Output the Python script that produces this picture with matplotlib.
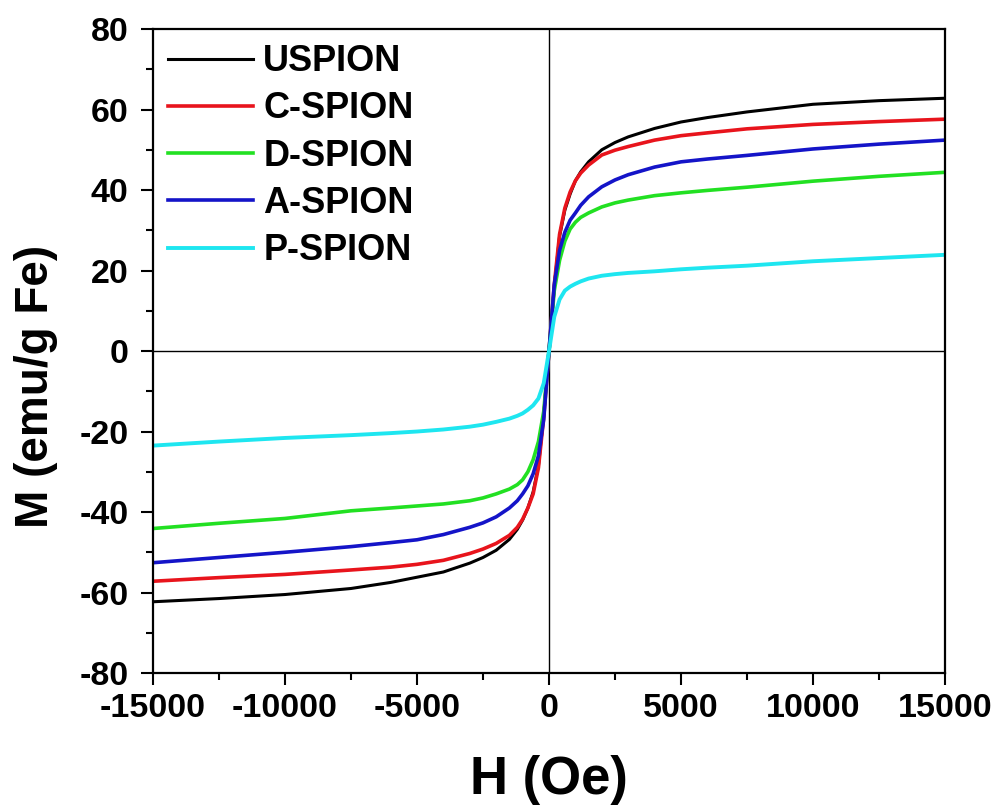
import matplotlib
matplotlib.use("Agg")
import matplotlib.pyplot as plt
from matplotlib.ticker import MultipleLocator

H = [-15000, -12500, -10000, -7500, -6000, -5000, -4000, -3000, -2500, -2000, -1500, -1200, -1000, -800,
     -600, -400, -200, 0, 200, 400, 600, 800, 1000, 1200, 1500, 2000, 2500, 3000, 4000, 5000, 6000,
     7500, 10000, 12500, 15000]

M_USPION = [-62.3, -61.5, -60.5, -59.0, -57.5, -56.2, -54.9, -52.7, -51.3, -49.5, -46.8, -44.3, -42.0, -39.0,
            -35.0, -28.5, -16.0, 0, 16.0, 28.5, 35.0, 39.0, 42.3, 44.5, 47.0, 50.0, 51.8, 53.2, 55.3, 56.9,
            58.0, 59.4, 61.3, 62.2, 62.8]
M_CSPION = [-57.2, -56.3, -55.5, -54.4, -53.7, -53.0, -52.0, -50.3, -49.2, -47.8, -45.8, -43.8, -41.8, -39.0,
            -35.5, -29.0, -16.5, 0, 16.5, 29.0, 35.5, 39.5, 42.3, 44.2, 46.2, 48.7, 49.9, 50.8, 52.4, 53.5,
            54.2, 55.2, 56.3, 57.0, 57.6]
M_DSPION = [-44.1, -42.8, -41.6, -39.7, -39.0, -38.5, -38.0, -37.2, -36.5, -35.5, -34.3, -33.2, -32.0, -30.0,
            -27.0, -22.5, -15.0, 0, 15.0, 22.5, 27.3, 30.3, 32.0, 33.2, 34.3, 35.8, 36.8, 37.5, 38.6, 39.3,
            39.9, 40.7, 42.2, 43.4, 44.4]
M_ASPION = [-52.6, -51.3, -50.0, -48.6, -47.6, -46.9, -45.6, -43.8, -42.7, -41.2, -39.0, -37.2, -35.5, -33.5,
            -30.5, -26.0, -17.0, 0, 16.5, 25.0, 29.5, 32.5, 34.3, 36.2, 38.3, 40.8, 42.5, 43.8, 45.7, 47.0,
            47.7, 48.6, 50.2, 51.4, 52.4]
M_PSPION = [-23.5, -22.5, -21.6, -20.9, -20.4, -20.0, -19.5, -18.8, -18.3, -17.6, -16.8, -16.1, -15.5, -14.6,
            -13.5, -11.8, -8.0, 0, 8.5, 12.8, 15.0, 16.0, 16.7, 17.3, 18.0, 18.7, 19.1, 19.4, 19.8, 20.3,
            20.7, 21.2, 22.3, 23.1, 23.9]

labels = ["USPION", "C-SPION", "D-SPION", "A-SPION", "P-SPION"]
series = [M_USPION, M_CSPION, M_DSPION, M_ASPION, M_PSPION]
colors = ["#000000", "#e8141c", "#22e022", "#1414c8", "#1ee6f0"]
widths = [2.2, 2.6, 2.6, 2.6, 2.8]

plt.rcParams['font.family'] = ['Liberation Sans', 'DejaVu Sans']
plt.rcParams['font.weight'] = 'bold'
plt.rcParams['axes.unicode_minus'] = False

fig = plt.figure(figsize=(9.98, 8.06), dpi=100)
ax = fig.add_axes([0.1533, 0.165, 0.7936, 0.799])

ax.axhline(0, color='black', lw=1.0, zorder=1)
ax.axvline(0, color='black', lw=1.0, zorder=1)

for m, lab, c, w in zip(series, labels, colors, widths):
    ax.plot(H, m, color=c, lw=w, label=lab, zorder=2, solid_joinstyle='round')

ax.set_xlim(-15000, 15000)
ax.set_ylim(-80, 80)
ax.xaxis.set_major_locator(MultipleLocator(5000))
ax.xaxis.set_minor_locator(MultipleLocator(2500))
ax.yaxis.set_major_locator(MultipleLocator(20))
ax.yaxis.set_minor_locator(MultipleLocator(10))
ax.tick_params(which='major', direction='out', length=8.5, width=1.5, labelsize=24.5)
ax.tick_params(which='minor', direction='out', length=5, width=1.5)
ax.tick_params(axis='y', which='major', pad=9)
ax.tick_params(axis='x', which='major', pad=6)
ax.tick_params(top=False, right=False)
for sp in ax.spines.values():
    sp.set_linewidth(1.6)
for t in ax.get_xticklabels() + ax.get_yticklabels():
    t.set_fontweight('bold')

ax.set_xlabel("H (Oe)", fontsize=38, fontweight='bold', labelpad=22)
ax.set_ylabel("M (emu/g Fe)", fontsize=33, fontweight='bold')
ax.yaxis.set_label_coords(-0.12, 0.445)

leg = ax.legend(loc='upper left', frameon=False, handlelength=2.35,
                handletextpad=0.28, labelspacing=0.34, borderpad=0.0, borderaxespad=0.42,
                prop={'weight': 'bold', 'size': 26})

fig.savefig("out.png", dpi=100)
